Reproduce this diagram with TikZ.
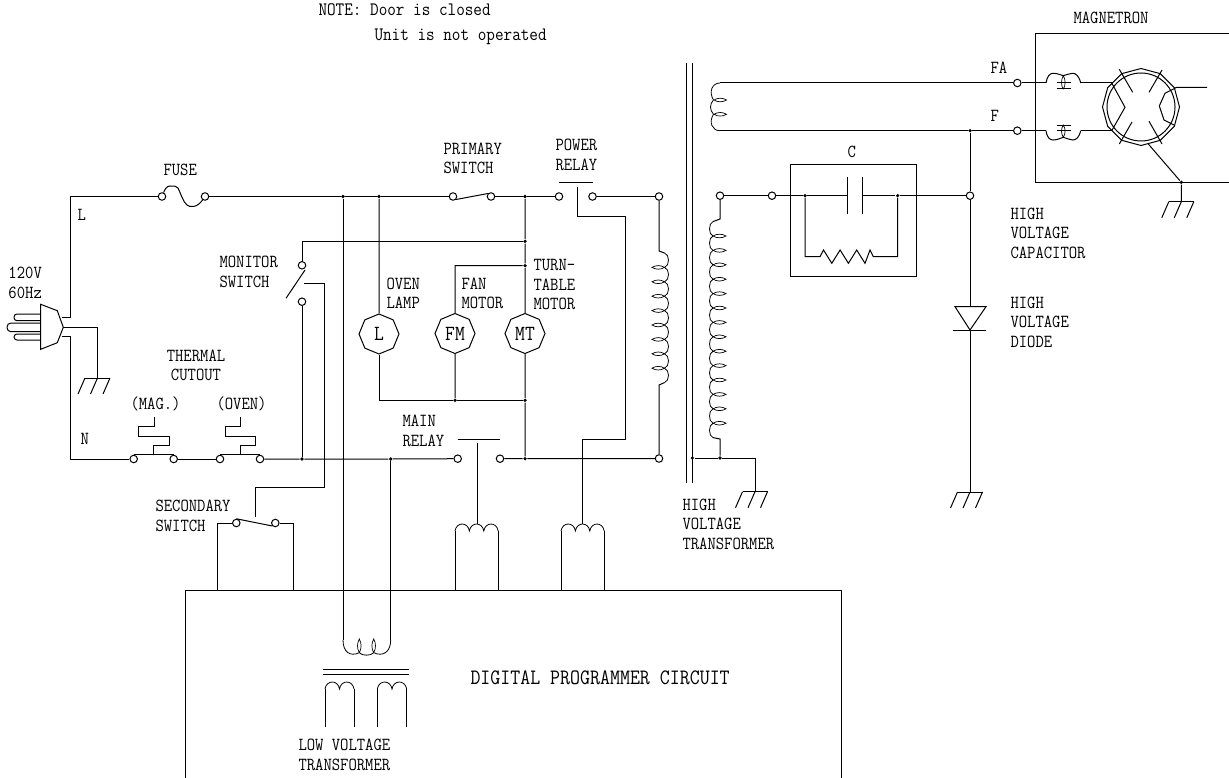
\documentclass[tikz,border=0pt]{standalone}
\usepackage{fontspec}
\setmonofont[FakeStretch=0.88]{Latin Modern Mono}
\usetikzlibrary{shapes.geometric}

% one small lens of a winding
\newcommand{\lens}[3]{\draw[line width=.7pt,shift={#1},rotate=#2] (0,0) .. controls ({.3*#3},-2.4) and ({.7*#3},-2.4) .. ({#3},0) .. controls ({.7*#3},2.4) and ({.3*#3},2.4) .. (0,0);}
% row of bumps: start, rotation, count, pitch, height
\newcommand{\bumps}[5]{\draw[line width=.8pt,shift={#1},rotate=#2] (0,0) foreach \i in {1,...,#3} { .. controls ({(\i-.9)*#4},{-1.33*(#5)}) and ({(\i-.1)*#4},{-1.33*(#5)}) .. ({\i*#4},0) };}
% winding with lenses: start, rotation, count, pitch, height, lens length
\newcommand{\coil}[6]{\bumps{#1}{#2}{#3}{#4}{#5}
  \begin{scope}[shift={#1},rotate=#2]
    \pgfmathtruncatemacro{\lastlens}{#3-1}
    \foreach \i in {1,...,\lastlens} {\lens{({\i*#4},0)}{90}{-1*(#6)}}
  \end{scope}}

\begin{document}
\begin{tikzpicture}[
    x=1pt, y=-1pt,
    line width=1pt,
    lab/.style={font=\fontsize{18.4}{19.5}\selectfont\ttfamily, inner sep=0pt, align=left, anchor=west},
    note/.style={lab, font=\fontsize{19}{19.5}\selectfont\ttfamily},
    term/.style={circle, draw, fill=white, inner sep=0pt, minimum size=7.5},
    jdot/.style={circle, fill=black, inner sep=0pt, minimum size=3.6},
    motor/.style={regular polygon, regular polygon sides=8, shape border rotate=22.5, draw, inner sep=0pt, minimum size=40, font=\fontsize{21.6}{21.6}\selectfont\ttfamily},
    pics/earth/.style={code={
        \draw (-12.5,0) -- (12.5,0);
        \draw (-12.5,0) -- ++(-7,16);
        \draw (0,0) -- ++(-7,16);
        \draw (12.5,0) -- ++(-7,16);
    }}
]
\useasboundingbox (0,0) rectangle (1229,778);

% texts
\node[note] (noteA) at (318,10) {NOTE: Door is closed};
\node[note] (noteB) at (374,37) {Unit is not operated};
\node[lab] (lblMagnetron) at (1073,18) {MAGNETRON};
\node[lab] (lblFA) at (990,68) {FA};
\node[lab] (lblF) at (990,116) {F};
\node[lab] (lblCap) at (1010,233) {HIGH\\VOLTAGE\\CAPACITOR};
\node[lab] (lblDiode) at (1010,322) {HIGH\\VOLTAGE\\DIODE};
\node[lab] (lblC) at (847,152) {C};
\node[lab] (lblFuse) at (163,170) {FUSE};
\node[lab] (lblL) at (77,215) {L};
\node[lab] (lblN) at (80,439) {N};
\node[lab] (lblMains) at (8,283) {120V\\60Hz};
\node[lab] (lblMonitor) at (219,272) {MONITOR\\SWITCH};
\node[lab, align=center, anchor=center] (lblThermal) at (196,365.5) {THERMAL\\CUTOUT};
\node[lab] (lblMag) at (130,404) {(MAG.)};
\node[lab] (lblOven) at (216,404) {(OVEN)};
\node[lab] (lblSecondary) at (155,516) {SECONDARY\\SWITCH};
\node[lab] (lblPrimary) at (443,158.5) {PRIMARY\\SWITCH};
\node[lab] (lblPower) at (555,155) {POWER\\RELAY};
\node[lab] (lblLamp) at (386,293.5) {OVEN\\LAMP};
\node[lab] (lblFan) at (461,293.5) {FAN\\MOTOR};
\node[lab] (lblTurn) at (533,284.5) {TURN-\\TABLE\\MOTOR};
\node[lab] (lblMain) at (402,431) {MAIN\\RELAY};
\node[lab] (lblHvt) at (682,524) {HIGH\\VOLTAGE\\TRANSFORMER};
\node[lab] (lblLvt) at (298,755) {LOW VOLTAGE\\TRANSFORMER};
\node[lab, font=\fontsize{22}{22}\selectfont\ttfamily] (lblProg) at (470,678) {DIGITAL PROGRAMMER CIRCUIT};

% boxes
\coordinate (boxTop) at (185,590);
\draw (185,778) -- (boxTop) -- (841,590) -- (841,778);
\draw (1229,33.3) -- (1035,33.3) -- (1035,182.3) -- (1229,182.3);
\node[draw, minimum width=125.7, minimum height=112.4, inner sep=0pt] (capBox) at (853.2,220.5) {};

% terminals
\node[term] (fuseL) at (162,196.5) {};
\node[term] (fuseR) at (205,196.5) {};
\node[term] (priL) at (453,196.5) {};
\node[term] (priR) at (491,196.5) {};
\node[term] (powL) at (559,196.5) {};
\node[term] (powR) at (592.5,196.5) {};
\node[term] (relTop) at (659,196.5) {};
\node[term] (relBot) at (659,458.5) {};
\node[term] (monUp) at (302,265.3) {};
\node[term] (monLow) at (302,301.7) {};
\node[term] (magL) at (133.7,459) {};
\node[term] (magR) at (173.7,459) {};
\node[term] (ovenL) at (220,459) {};
\node[term] (ovenR) at (260,459) {};
\node[term] (mainL) at (457.7,458.7) {};
\node[term] (mainR) at (500,458.7) {};
\node[term] (secL) at (236.3,523) {};
\node[term] (secR) at (275.3,523) {};
\node[term] (hvTerm) at (720,195.7) {};
\node[term] (capIn) at (772,195.7) {};
\node[term] (hvNode) at (970,195.7) {};
\node[term] (faTerm) at (1017.3,83) {};
\node[term] (fTerm) at (1017.3,130.7) {};

% junctions
\node[jdot] (jFeed) at (343,196.5) {};
\node[jdot] (jLamp) at (379,196.5) {};
\node[jdot] (jTop) at (525,196.5) {};
\node[jdot] (jMon) at (525,241.3) {};
\node[jdot] (jFan) at (525,265.7) {};
\node[jdot] (jBotFM) at (455,400.3) {};
\node[jdot] (jBotMT) at (525,400.3) {};
\node[jdot] (jRet) at (525,458.7) {};
\node[jdot] (jMonLow) at (302,459) {};
\node[jdot] (jLow) at (390.7,459) {};
\node[jdot] (jCL) at (805,195.7) {};
\node[jdot] (jCR) at (897.7,195.7) {};
\node[jdot] (jF) at (970,130.7) {};
\node[jdot] (jCore) at (692.3,458) {};
\node[jdot] (jHv) at (720,458) {};
\node[jdot] (jAnode) at (1181.3,182.3) {};

% motors and lamp
\node[motor] (lamp) at (379,334) {L};
\node[motor] (fanM) at (455,333.5) {FM};
\node[motor] (ttM) at (525,333.5) {MT};

% plug
\coordinate (plugL) at (61.7,317);
\coordinate (plugG) at (63.3,327.3);
\coordinate (plugN) at (61.7,336.7);
\draw (40.7,304.3) -- (57.3,310.7) -- (plugG) -- (57.3,342.7) -- (40.7,349.3) -- cycle;
\draw[rounded corners=3pt] (40.7,314) -- (14,314) -- (14,320.7) -- (40.7,320.7);
\draw[rounded corners=4pt] (40.7,323) -- (7,323) -- (7,331.7) -- (40.7,331.7);
\draw[rounded corners=3pt] (40.7,334) -- (14,334) -- (14,340) -- (40.7,340);
\coordinate (cornerL) at (70,196.5);
\coordinate (cornerN) at (70,459);
\coordinate (gndPlug) at (97.5,378);
\draw (plugL) -| (cornerL) -- (fuseL);
\draw (plugN) -| (cornerN) -- (magL);
\draw (plugG) -| (gndPlug);
\pic at (gndPlug) {earth};

% fuse
\draw (fuseL) .. controls (165,189) and (167,186) .. (170,186) .. controls (174,186) and (177,186) .. (178,188) .. controls (181,194) and (183,202) .. (187,205) .. controls (190,207.5) and (197,208) .. (fuseR);

% top rail
\draw (fuseR) -- (jFeed) -- (jLamp) -- (priL);
\draw (priL.south east) -- (priR.north west);
\draw (priR) -- (jTop) -- (powL);
\draw (powR) -- (relTop);

% power relay
\coordinate (powStem) at (577.3,187);
\coordinate (powA) at (625.7,217);
\coordinate (powB) at (625.7,439);
\coordinate (powPeak) at (582.6,524);
\draw (558.7,183) -- (593.3,183);
\draw (powStem) |- (powA) -- (powB) -| (powPeak);

% relay coil
\coordinate (relCoilA) at (664.5,253);
\coordinate (relCoilB) at (664.5,382.6);
\draw (relTop) -- (659,251) -- (relCoilA);
\draw (relBot) -- (659,385) -- (relCoilB);
\coil{(relCoilA)}{-90}{9}{14.4}{4}{12.5}

% branches
\draw (jLamp) -- (lamp);
\draw (lamp) |- (jBotFM);
\draw (jBotFM) -- (jBotMT);
\draw (jBotFM) -- (fanM);
\coordinate (fanCorner) at (455,265.7);
\draw (fanM) -- (fanCorner) -- (jFan);
\draw (jTop) -- (jMon) -- (jFan) -- (ttM) -- (jBotMT) -- (jRet);

% monitor switch
\coordinate (monTop) at (302,241.3);
\coordinate (monBladeA) at (286,298.3);
\coordinate (monBladeB) at (305,270);
\coordinate (monLink) at (304,283);
\coordinate (linkTurn) at (324.3,487);
\coordinate (secLink) at (255.3,517);
\draw (monUp) -- (monTop) -- (jMon);
\draw (monBladeA) -- (monBladeB);
\draw (monLow) -- (jMonLow);
\draw (monLink) -| (linkTurn) -| (secLink);

% thermal cutouts
\coordinate (magStem) at (153.7,455.3);
\coordinate (ovenStem) at (240,455.3);
\draw (magL.north) -- (magR.north);
\draw (ovenL.north) -- (ovenR.north);
\draw (magStem) -- ++(0,-9.7) -- ++(15.6,0) -- ++(0,-9.4) -- ++(-30.6,0) -- ++(0,-9.6) -- ++(15.3,0) -- ++(0,-9.4);
\draw (ovenStem) -- ++(0,-9.7) -- ++(15.6,0) -- ++(0,-9.4) -- ++(-30.6,0) -- ++(0,-9.6) -- ++(15.3,0) -- ++(0,-9.4);

% bottom rail
\draw (magR) -- (ovenL);
\draw (ovenR) -- (jMonLow) -- (jLow) -- (mainL);
\draw (mainR) -- (jRet) -- (relBot);

% main relay
\coordinate (mainStem) at (477.7,443);
\coordinate (mainPeak) at (477.7,524);
\draw (457.7,439) -- (500,439);
\draw (mainStem) -- (mainPeak);

% relay drive coils
\coordinate (mainA) at (455,531);
\coordinate (mainB) at (498.2,531);
\coordinate (powerA) at (561,531);
\coordinate (powerB) at (604.2,531);
\bumps{(mainA)}{0}{3}{14.4}{7}
\bumps{(powerA)}{0}{3}{14.4}{7}
\draw (mainA) -- (mainA |- boxTop);
\draw (mainB) -- (mainB |- boxTop);
\draw (powerA) -- (powerA |- boxTop);
\draw (powerB) -- (powerB |- boxTop);

% secondary switch
\coordinate (secFootL) at (217.7,590);
\coordinate (secFootR) at (293.3,590);
\draw (secL) -| (secFootL);
\draw (secR) -| (secFootR);
\draw (secL.north) -- (secR.south west);

% low voltage transformer
\coordinate (lvA) at (343,640);
\coordinate (lvB) at (390.7,640);
\draw (jFeed) -- (lvA);
\draw (jLow) -- (lvB);
\draw[line width=.8pt] (lvA) .. controls (343,652) and (350,657) .. (359.3,652.7) .. controls (362,656) and (371,656) .. (373.7,652.7) .. controls (383,657) and (390.7,652) .. (lvB);
\lens{(359.3,652.7)}{90}{13.7}
\lens{(373.7,652.7)}{90}{13.7}
\draw (323.3,669) -- (408.7,669);
\draw (323.3,674.3) -- (408.7,674.3);
\coordinate (lvLeftA) at (325,689);
\coordinate (lvLeftB) at (354,689);
\coordinate (lvRightA) at (377.3,689);
\coordinate (lvRightB) at (406.7,689);
\bumps{(lvLeftA)}{0}{2}{14.5}{7}
\bumps{(lvRightA)}{0}{2}{14.7}{7}
\draw (lvLeftA) -- ++(0,38);
\draw (lvLeftB) -- ++(0,38);
\draw (lvRightA) -- ++(0,38);
\draw (lvRightB) -- ++(0,38);

% high voltage transformer core
\draw (686.7,63) -- (686.7,482.7);
\draw (692.3,63) -- (692.3,482.7);

% filament winding and wires
\coordinate (faStart) at (720,83);
\coordinate (fStart) at (720,130.7);
\draw[line width=.8pt] (faStart) .. controls (712,83) and (708.5,92) .. (713.5,100) .. controls (709.5,104) and (709.5,110) .. (713.5,114.3) .. controls (708.5,122) and (712,130.7) .. (fStart);
\lens{(714,100)}{0}{12.5}
\lens{(714,114.3)}{0}{12.5}
\draw (faStart) -- (faTerm);
\draw (fStart) -- (jF) -- (fTerm);

% secondary winding
\coordinate (hvCoilA) at (713,221.6);
\coordinate (hvCoilB) at (713,437.6);
\coordinate (hvCoilTop) at (720,219);
\coordinate (hvCoilEnd) at (720,439);
\draw (hvTerm) -- (hvCoilTop) -- (hvCoilA);
\draw (jHv) -- (hvCoilEnd) -- (hvCoilB);
\coil{(hvCoilA)}{-90}{15}{14.4}{-3.5}{-13}
\coordinate (gndHv) at (755,491.7);
\draw (jCore) -- (jHv) -| (gndHv);
\pic at (gndHv) {earth};

% capacitor with resistor
\coordinate (capL) at (847.7,195.7);
\coordinate (capR) at (862.7,195.7);
\coordinate (resL) at (820,256.7);
\draw (hvTerm) -- (capIn) -- (jCL) -- (capL);
\draw (capR) -- (jCR) -- (hvNode);
\draw (capL) +(0,-18.5) -- +(0,18.5);
\draw (capR) +(0,-18.5) -- +(0,18.5);
\draw (jCL) |- (resL) -- ++(3.5,-6.7) -- ++(8.3,13.3) -- ++(8.3,-13.3) -- ++(8.3,13.3) -- ++(8.3,-13.3) -- ++(8.3,13.3) -- ++(5,-13.3) -- ++(3.3,6.7) -| (jCR);

% diode
\coordinate (diodeTop) at (970,306.7);
\coordinate (diodeTip) at (970,330);
\coordinate (gndDiode) at (970,492);
\draw (jF) -- (hvNode) -- (diodeTop);
\draw (955,306.7) -- (986,306.7) -- (diodeTip) -- cycle;
\draw (953.3,330) -- (986.3,330);
\draw (diodeTip) -- (gndDiode);
\pic at (gndDiode) {earth};

% magnetron
\node[circle, draw, inner sep=0pt, minimum size=68] (tube) at (1141,107) {};
\node[regular polygon, regular polygon sides=12, shape border rotate=15, draw, inner sep=0pt, minimum size=77] (tubeEnv) at (1141,107) {};
\coordinate (filA) at (1111.7,83);
\coordinate (filB) at (1111.7,130.7);
\coordinate (chokeFA) at (1046,83);
\coordinate (chokeFAr) at (1080.7,83);
\coordinate (chokeF) at (1046,130.7);
\coordinate (chokeFr) at (1080.7,130.7);
\draw (faTerm) -- (chokeFA);
\draw (chokeFAr) -- (filA);
\draw (fTerm) -- (chokeF);
\draw (chokeFr) -- (filB);
\draw (chokeFA) .. controls (1047,76) and (1050,73.3) .. (1053,73.3) .. controls (1058,73.3) and (1060,75) .. (1063.3,75.7) .. controls (1067,75) and (1069,73.3) .. (1072.7,73.3) .. controls (1076,73.3) and (1079,76) .. (chokeFAr);
\draw (chokeF) .. controls (1047,137.7) and (1050,140) .. (1053,140) .. controls (1058,140) and (1060,138) .. (1063.3,137.3) .. controls (1067,138) and (1069,140) .. (1072.7,140) .. controls (1076,140) and (1079,137.7) .. (chokeFr);
\lens{(1063.3,89.3)}{90}{13.6}
\lens{(1063.3,137.3)}{90}{12.3}
\draw (1056.7,82.7) -- (1070.7,82.7);
\draw (1056.7,88.3) -- (1070.7,88.3);
\draw (1056.7,125.7) -- (1070.7,125.7);
\draw (1056.7,130.7) -- (1070.7,130.7);
\draw (filA) -- (1125,107.3) -- (filB);
\draw (1207,87.3) -- (1176.7,87.3) -- (1165,93.3) -- (1159.3,106) -- (1164,120) -- (1174,125);
\draw (1119.3,69.3) -- (1132.7,92.3);
\draw (1162,70) -- (1149,92.3);
\draw (1119.3,144) -- (1132,122);
\draw (1162,144) -- (1149,121.3);
\coordinate (tubeBase) at (1148.3,144);
\coordinate (gndTube) at (1181.3,201.7);
\draw (tubeBase) -- (jAnode) -- (gndTube);
\pic at (gndTube) {earth};
\end{tikzpicture}
\end{document}
